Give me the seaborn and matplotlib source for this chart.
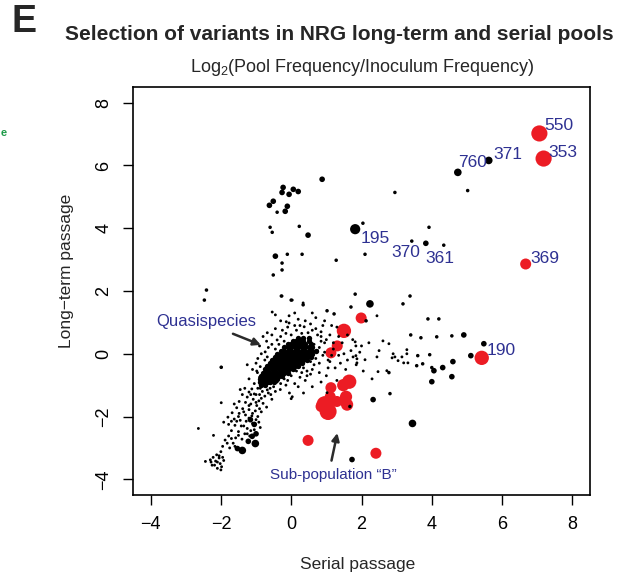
import numpy as np
import pandas as pd
import matplotlib
matplotlib.use("Agg")
import matplotlib.pyplot as plt
import seaborn as sns

# ---------------- data (log2 pool / inoculum frequency) ----------------
# dense quasispecies core, listed row by row (long-term value -> serial values)
core_row_y = [-1.0, -0.9, -0.8, -0.7, -0.6, -0.5, -0.4, -0.3, -0.2, -0.1, 0.0, 0.1, 0.2, 0.3, 0.4, 0.5]
core_row_x = [
    [-0.85, -0.75],
    [-0.90, -0.80, -0.70, -0.60, -0.50],
    [-0.90, -0.80, -0.70, -0.60, -0.50, -0.40],
    [-0.85, -0.75, -0.65, -0.55, -0.45, -0.35, -0.25],
    [-0.80, -0.70, -0.60, -0.50, -0.40, -0.30, -0.20, -0.10],
    [-0.75, -0.65, -0.55, -0.45, -0.35, -0.25, -0.15, -0.05, 0.05],
    [-0.70, -0.60, -0.50, -0.40, -0.30, -0.20, -0.10, 0.00, 0.10, 0.20],
    [-0.60, -0.50, -0.40, -0.30, -0.20, -0.10, 0.00, 0.10, 0.20, 0.30],
    [-0.55, -0.45, -0.35, -0.25, -0.15, -0.05, 0.05, 0.15, 0.25, 0.35, 0.45],
    [-0.45, -0.35, -0.25, -0.15, -0.05, 0.05, 0.15, 0.25, 0.35, 0.45, 0.55],
    [-0.40, -0.30, -0.20, -0.10, 0.00, 0.10, 0.20, 0.30, 0.40, 0.50, 0.60],
    [-0.30, -0.20, -0.10, 0.00, 0.10, 0.20, 0.30, 0.40, 0.50, 0.60, 0.70],
    [-0.20, -0.10, 0.00, 0.10, 0.20, 0.30, 0.40, 0.50, 0.60],
    [-0.10, 0.00, 0.10, 0.20, 0.30, 0.40, 0.55],
    [0.05, 0.15, 0.25, 0.35, 0.50],
    [0.20, 0.35, 0.50],
]

# lower-left tail of the quasispecies
tail_x = [-0.62, -0.72, -0.85, -0.90, -0.78, -0.98, -0.68, -0.82, -0.95, -1.05,
          -1.12, -0.58, -0.75, -0.90, -1.05, -1.20, -1.32, -1.45, -1.39, -1.25,
          -1.08, -0.92, -0.80, -0.98, -1.15, -1.30, -1.48, -1.62, -1.55, -1.38,
          -1.20, -1.02, -0.85, -0.95, -1.12, -1.30, -1.48, -1.68, -1.80, -1.62,
          -1.45, -1.28, -1.10, -0.92, -0.88, -1.05, -1.25, -1.42, -1.60, -1.78,
          -1.92, -1.70, -1.50, -1.32, -1.18, -1.40, -1.58, -1.78, -1.65, -1.82,
          -1.95, -1.75, -2.00, -2.12, -2.22, -2.05, -1.92, -2.15, -2.28, -2.02,
          -2.18, -1.98, -2.10, -2.30, -2.64, -2.21, -2.44, -1.99, -1.99]
tail_y = [-0.95, -1.02, -0.95, -0.75, -0.62, -0.55, -1.15, -1.20, -1.10, -0.95,
          -1.12, -1.30, -1.35, -1.30, -1.28, -1.22, -1.10, -1.14, -1.30, -1.38,
          -1.45, -1.50, -1.58, -1.65, -1.60, -1.55, -1.52, -1.60, -1.72, -1.75,
          -1.78, -1.82, -1.85, -2.00, -1.98, -1.95, -1.90, -1.88, -2.02, -2.08,
          -2.12, -2.15, -2.22, -2.18, -2.35, -2.42, -2.38, -2.30, -2.28, -2.25,
          -2.18, -2.45, -2.48, -2.55, -2.62, -2.72, -2.68, -2.62, -2.85, -2.85,
          -2.95, -3.00, -3.12, -3.22, -3.30, -3.32, -3.40, -3.42, -3.45, -3.50,
          -3.55, -3.60, -3.65, -3.38, -2.38, -2.60, -3.43, -0.43, -1.56]
tail2_x = [-0.70, -0.65, -0.88, -1.00, -1.15, -0.85, -1.00, -1.20, -1.10, -0.90,
           -1.35, -1.50, -1.20, -1.00, -1.35, -1.15, -1.55, -1.70, -1.25, -1.50,
           -1.70, -1.88, -1.60, -2.05, -2.10, -1.95, -2.25, -2.00, -0.55, -0.70]
tail2_y = [-0.75, -1.25, -1.10, -1.30, -1.30, -1.42, -1.55, -1.65, -1.90, -1.75,
           -1.85, -2.00, -2.05, -2.10, -2.30, -2.45, -2.15, -2.15, -2.55, -2.60,
           -2.70, -2.75, -2.95, -3.25, -3.45, -3.30, -3.55, -3.70, -1.45, -1.70]

# scattered variants around the core
halo_x = [-0.54, -0.45, -0.26, -0.06, -0.14, -0.06, 0.03, 0.34, 0.37, 0.48,
          -0.68, -0.40, -0.31, 0.03, 0.60, -0.79, -0.96, -0.88, -0.68, -0.74,
          -0.55, -0.45, -0.30, -0.15, 0.00, 0.15, 0.25, 0.55, 0.70, 0.85,
          0.95, 0.75, 0.90, 1.05, 0.80, 0.60, 0.45, 0.25, 0.10, -0.10,
          -0.30, -0.50, 0.35, 0.55, 0.65, -0.20, -0.35, -0.60, -0.75]
halo_y = [1.33, 1.24, 1.84, 1.21, 1.02, 0.98, 1.71, 1.62, 0.86, 0.67,
          0.67, 0.44, -1.14, -1.37, -1.05, -0.83, -0.60, -0.41, -0.10, 0.06,
          0.30, 0.15, 0.55, 0.65, 0.60, 0.75, 0.90, 0.95, 0.80, 0.55,
          0.35, 0.10, -0.05, -0.20, -0.30, -0.50, -0.70, -0.75, -0.95, -0.85,
          -0.95, -1.05, -0.45, -0.25, 0.30, 0.40, 0.30, -0.30, -0.20]
halo2_x = [-1.00, -0.95, -0.85, -0.90, -0.70, -0.55, -0.45, -0.25, -0.10, 0.10,
           0.20, 0.40, 0.60, 0.75, 0.85, 0.80, 0.95, 0.70, 0.65, 0.45,
           0.30, 0.15, 0.00, -0.20, -0.40, -0.60, -0.45, -0.15, 0.20, 0.40,
           0.55, -1.10, -1.20, -1.25, -0.65, -0.80, 0.30, 0.50, 1.20, 1.35,
           0.90, 0.60, 0.10, -0.30, 1.15, 1.05, 0.85, 0.35, -0.05]
halo2_y = [-0.30, -0.15, 0.00, 0.25, 0.40, 0.60, 0.80, 0.75, 0.85, 0.90,
           1.10, 1.05, 0.75, 0.60, 0.40, 0.20, 0.05, -0.15, -0.35, -0.55,
           -0.60, -0.55, -0.70, -0.80, -0.90, -1.10, -1.20, -1.00, -1.05, -0.85,
           -0.65, -0.50, -0.80, -0.35, 0.20, 0.55, 0.65, 0.50, 0.35, 0.55,
           0.90, 1.30, 1.30, 1.05, -0.05, -0.45, -0.90, -1.25, -1.25]

# variants enriched in serial passage only
right_x = [1.00, 1.10, 0.85, 1.20, 1.35, 1.50, 1.60, 1.70, 1.40, 1.10,
           1.25, 1.55, 1.85, 0.80, 1.00, 1.30, 1.60, 1.75, 2.00, 1.95,
           1.45, 1.15, 0.95, 0.70, 1.76, 1.84, 1.87, 1.87, 2.10, 2.21,
           2.44, 2.61, 2.78, 2.47, 2.72, 2.87, 2.90, 2.95, 3.04, 3.15,
           3.20, 3.32, 3.29, 3.29, 1.84, 1.82, 2.44, 1.02, 0.00, 2.30,
           2.05, 2.50, 1.30]
right_y = [0.45, 0.60, 0.70, 0.15, -0.05, 0.00, -0.20, 0.10, -0.30, -0.25,
           -0.45, -0.50, -0.35, -0.60, -0.70, 0.85, 0.60, 0.45, 0.25, 0.05,
           0.35, 0.90, 1.05, 1.15, -0.10, -0.06, -0.16, -0.29, -0.19, 0.35,
           -0.10, 0.41, 0.32, -0.57, -0.54, -0.13, 0.00, -0.10, -0.22, -0.10,
           -0.29, -0.29, 0.13, 0.00, 0.25, 0.38, 1.21, -1.24, -1.43, -0.80,
           -0.55, 0.10, -0.85]

small_x = [1.02, 1.22, 2.13, 1.82, 1.70, 3.18, 3.38, 3.89, 4.20, 3.40,
           3.69, 4.14, 4.57, 3.94, 3.74, 3.57, 3.60, 4.00, 2.81, 1.67,
           2.78, 2.04, 3.92, 3.43, 4.34, 2.10, 5.02, 2.95, -0.40, -0.60,
           -0.54, 0.23, -0.11, 0.31, -0.26, -0.26, -0.51, 1.28, -2.47, -2.41,
           -0.28, 0.00, 0.34, -1.99]
small_y = [1.37, 1.27, 1.05, 1.90, 1.49, 1.59, 1.84, 1.11, 1.11, 0.60,
           0.51, 0.54, 0.57, -0.03, -0.32, -0.38, -0.06, -0.44, -1.27, -1.68,
           -0.60, 4.16, 4.03, 3.59, 3.46, 3.17, 5.20, 5.14, 4.51, 4.03,
           3.87, 4.06, 3.17, 3.17, 2.89, 2.67, 2.51, 2.98, 1.71, 2.03,
           1.84, 1.71, 1.56, -0.43]

med_x = [-0.23, -0.26, -0.06, 0.06, 0.20, -0.51, -0.62, -0.11, -0.17, 0.48,
         -0.45, 0.88, 3.83, 2.33, 4.91, 5.48, 5.11, 4.60, 4.31, 4.57,
         4.00, 4.06, 1.73, -1.16, -1.05, -1.00, -1.22, -1.53, -1.11]
med_y = [5.30, 5.14, 5.08, 5.24, 5.17, 4.86, 4.73, 4.70, 4.54, 3.78,
         3.11, 5.56, 3.52, -1.46, 0.60, 0.32, -0.06, -0.25, -0.44, -0.73,
         -0.89, -0.54, -3.37, -2.10, -2.25, -2.55, -2.79, -3.02, -2.63]

large_x = [2.24, 4.74, 5.62, 3.45, -1.02, -1.39]
large_y = [1.59, 5.78, 6.16, -2.22, -2.86, -3.08]

xl_x = [1.82]
xl_y = [3.97]

# selected variants (red), with relative weight
red_x = [7.06, 7.18, 6.67, 5.42, 1.99, 1.50, 1.31, 1.13, 1.65, 1.48,
         1.13, 1.56, 1.11, 1.59, 1.30, 0.96, 1.05, 0.85, 0.48, 2.41]
red_y = [7.02, 6.22, 2.86, -0.13, 1.14, 0.73, 0.25, 0.03, -0.89, -1.00,
         -1.08, -1.37, -1.37, -1.62, -1.52, -1.62, -1.84, -1.68, -2.76, -3.17]
red_w = [16, 16, 11, 14, 11, 14, 11, 11, 14, 12,
         11, 12, 11, 12, 11, 17, 17, 11, 11, 11]

# labelled variants
label_text = ["550", "353", "369", "190", "371", "760", "195", "370", "361"]
label_x = [7.06, 7.18, 6.67, 5.42, 5.62, 4.74, 1.82, 3.43, 4.34]
label_y = [7.02, 6.22, 2.86, -0.13, 6.16, 5.78, 3.97, 3.59, 3.46]

x_ticks = [-4, -2, 0, 2, 4, 6, 8]
y_ticks = [-4, -2, 0, 2, 4, 6, 8]

# ---------------- build tables ----------------
cx, cy = [], []
for yv, xs in zip(core_row_y, core_row_x):
    cx.extend(xs)
    cy.extend([yv] * len(xs))
core_df = pd.DataFrame({"serial": cx, "longterm": cy})

black_df = pd.concat([
    pd.DataFrame({"serial": tail_x, "longterm": tail_y, "level": 1}),
    pd.DataFrame({"serial": tail2_x, "longterm": tail2_y, "level": 1}),
    pd.DataFrame({"serial": halo_x, "longterm": halo_y, "level": 1}),
    pd.DataFrame({"serial": halo2_x, "longterm": halo2_y, "level": 1}),
    pd.DataFrame({"serial": right_x, "longterm": right_y, "level": 1}),
    pd.DataFrame({"serial": small_x, "longterm": small_y, "level": 2}),
    pd.DataFrame({"serial": med_x, "longterm": med_y, "level": 3}),
    pd.DataFrame({"serial": large_x, "longterm": large_y, "level": 4}),
    pd.DataFrame({"serial": xl_x, "longterm": xl_y, "level": 5}),
], ignore_index=True)
red_df = pd.DataFrame({"serial": red_x, "longterm": red_y, "weight": red_w})

# ---------------- figure ----------------
sns.set_theme(style="white")
plt.rcParams["font.family"] = ["Liberation Sans", "DejaVu Sans"]
plt.rcParams["mathtext.fontset"] = "custom"
plt.rcParams["mathtext.rm"] = "Liberation Sans"
plt.rcParams["mathtext.it"] = "Liberation Sans:italic"

fig = plt.figure(figsize=(6.27, 5.79), dpi=100)
ax = fig.add_axes([133 / 627, 1 - 495 / 579, 457 / 627, 408 / 579])

RED = "#EC1C24"
NAVY = "#2E3192"

sns.scatterplot(data=red_df, x="serial", y="longterm", size="weight",
                sizes=(63, 150), size_norm=(11, 17), color=RED,
                linewidth=0, legend=False, ax=ax, zorder=2)
sns.scatterplot(data=core_df, x="serial", y="longterm", s=15, color="black",
                linewidth=0, legend=False, ax=ax, zorder=3)
sns.scatterplot(data=black_df, x="serial", y="longterm", size="level",
                sizes={1: 4.2, 2: 6.5, 3: 16.5, 4: 30, 5: 54}, color="black",
                linewidth=0, legend=False, ax=ax, zorder=3)

offsets = {"550": (5, 8, "left"), "353": (5, 6, "left"), "369": (5, 6, "left"),
           "190": (5, 7, "left"), "371": (5, 6, "left"), "760": (0, 10, "left"),
           "195": (5, -9, "left"), "370": (-6, -11, "center"), "361": (-4, -13, "center")}
for t, xv, yv in zip(label_text, label_x, label_y):
    dx, dy, ha = offsets[t]
    ax.annotate(t, (xv, yv), xytext=(dx, dy), textcoords="offset pixels",
                ha=ha, va="center", color=NAVY, fontsize=12.5, zorder=5)

# annotations with arrows
ax.text(-2.41, 1.02, "Quasispecies", color=NAVY, fontsize=12, ha="center", va="center")
ax.annotate("", xy=(-0.79, 0.25), xytext=(-1.73, 0.67),
            arrowprops=dict(arrowstyle="-|>", color="#2b2b2b", lw=1.8, mutation_scale=11))
ax.text(1.19, -3.87, "Sub-population \u201cB\u201d", color=NAVY, fontsize=11, ha="center", va="center")
ax.annotate("", xy=(1.33, -2.44), xytext=(1.13, -3.49),
            arrowprops=dict(arrowstyle="-|>", color="#2b2b2b", lw=1.8, mutation_scale=11))

ax.set_xlim(-4.5, 8.5)
ax.set_ylim(-4.5, 8.5)
ax.set_xticks(x_ticks)
ax.set_yticks(y_ticks)
ax.set_xticklabels([str(v).replace("-", "\u2212") for v in x_ticks], fontsize=13)
ax.set_yticklabels([str(v).replace("-", "\u2212") for v in y_ticks], fontsize=13,
                   rotation=90, va="center")
ax.tick_params(direction="out", length=7, width=1, color="black", pad=8,
               bottom=True, left=True, top=False, right=False, labelcolor="black")
for sp in ax.spines.values():
    sp.set_color("black")
    sp.set_linewidth(1.2)
ax.set_xlabel("")
ax.set_ylabel("")

fig.text(358 / 627, 1 - 565 / 579, "Serial passage", ha="center", va="center", fontsize=12.5)
fig.text(66 / 627, 1 - 271 / 579, "Long\u2212term passage", ha="center", va="center",
         rotation=90, fontsize=12.5)
fig.text(362 / 627, 1 - 68 / 579, r"Log$_{2}$(Pool Frequency/Inoculum Frequency)",
         ha="center", va="center", fontsize=13)
fig.text(339 / 627, 1 - 34 / 579, "Selection of variants in NRG long-term and serial pools",
         ha="center", va="center", fontsize=15, fontweight="bold")
fig.text(12 / 627, 1 - 22 / 579, "E", ha="left", va="center", fontsize=27, fontweight="bold")
fig.text(1 / 627, 1 - 133 / 579, "e", ha="left", va="center", fontsize=8,
         fontweight="bold", color="#1E9B48")

fig.savefig("out.png", dpi=100)
